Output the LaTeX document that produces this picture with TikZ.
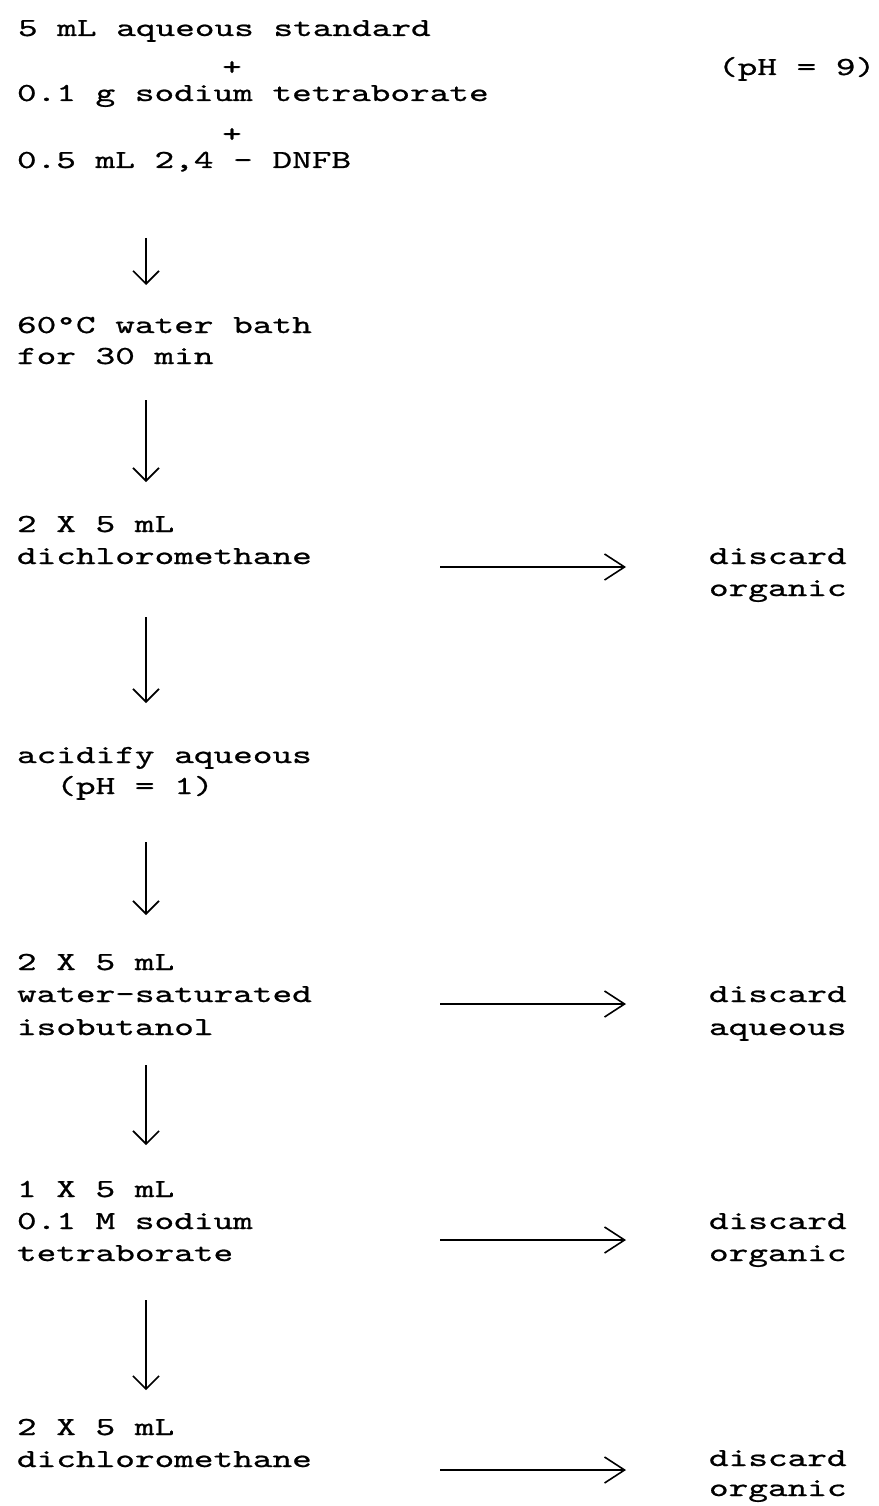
\documentclass[tikz,border=0pt]{standalone}
\usepackage{fontspec}
\setmonofont{lmmono10-regular.otf}[FakeStretch=1.44,FakeBold=0.8]
\usetikzlibrary{arrows.meta}
\begin{document}
\begin{tikzpicture}[x=1pt,y=-1pt,
  txt/.style={font=\ttfamily\fontsize{26}{31}\selectfont, anchor=base west, inner sep=0pt, outer sep=0pt},
  plus/.style={font=\ttfamily\fontsize{26}{31}\selectfont, anchor=base, inner sep=0pt},
  vdown/.style={line width=1.6pt, -{Straight Barb[length=13pt,width=26pt]}},
  hright/.style={line width=1.6pt, -{Straight Barb[length=20pt,width=26pt]}}]
\useasboundingbox (0,0) rectangle (878,1506);

% top block
\node[txt] (s1) at (18,36) {5 mL aqueous standard};
\node[plus] (p1) at (232,75) {+};
\node[txt] (ph9) at (718,75) {(pH = 9)};
\node[txt] (s2) at (17,101) {0.1 g sodium tetraborate};
\node[plus] (p2) at (232,142) {+};
\node[txt] (s3) at (17,168) {0.5 mL 2,4 - DNFB};

% water bath
\node[txt] (b1) at (17,333) {60°C water bath};
\node[txt] (b2) at (17,364) {for 30 min};

% dichloromethane 1
\node[txt] (c1) at (17,532) {2 X 5 mL};
\node[txt] (c2) at (17,564) {dichloromethane};
\node[txt] (r1a) at (709,564) {discard};
\node[txt] (r1b) at (709,596) {organic};

% acidify
\node[txt] (a1) at (17,763) {acidify aqueous};
\node[txt] (a2) at (17,794) {\ \ (pH = 1)};

% isobutanol
\node[txt] (i1) at (17,970) {2 X 5 mL};
\node[txt] (i2) at (17,1002) {water-saturated};
\node[txt] (i3) at (17,1035) {isobutanol};
\node[txt] (r2a) at (709,1002) {discard};
\node[txt] (r2b) at (709,1035) {aqueous};

% tetraborate
\node[txt] (t1) at (17,1197) {1 X 5 mL};
\node[txt] (t2) at (17,1229) {0.1 M sodium};
\node[txt] (t3) at (17,1261) {tetraborate};
\node[txt] (r3a) at (709,1229) {discard};
\node[txt] (r3b) at (709,1261) {organic};

% dichloromethane 2
\node[txt] (e1) at (17,1435) {2 X 5 mL};
\node[txt] (e2) at (17,1467) {dichloromethane};
\node[txt] (r4a) at (709,1466) {discard};
\node[txt] (r4b) at (709,1496) {organic};

% arrow end points
\coordinate (v1a) at (146,238);  \coordinate (v1b) at (146,285);
\coordinate (v2a) at (146,400);  \coordinate (v2b) at (146,482);
\coordinate (v3a) at (146,617);  \coordinate (v3b) at (146,703);
\coordinate (v4a) at (146,842);  \coordinate (v4b) at (146,915);
\coordinate (v5a) at (146,1065); \coordinate (v5b) at (146,1145);
\coordinate (v6a) at (146,1300); \coordinate (v6b) at (146,1390);
\coordinate (h1a) at (440,567);  \coordinate (h1b) at (626,567);
\coordinate (h2a) at (440,1004); \coordinate (h2b) at (626,1004);
\coordinate (h3a) at (440,1240); \coordinate (h3b) at (626,1240);
\coordinate (h4a) at (440,1470); \coordinate (h4b) at (626,1470);

\draw[vdown] (v1a) -- (v1b);
\draw[vdown] (v2a) -- (v2b);
\draw[vdown] (v3a) -- (v3b);
\draw[vdown] (v4a) -- (v4b);
\draw[vdown] (v5a) -- (v5b);
\draw[vdown] (v6a) -- (v6b);
\draw[hright] (h1a) -- (h1b);
\draw[hright] (h2a) -- (h2b);
\draw[hright] (h3a) -- (h3b);
\draw[hright] (h4a) -- (h4b);
\end{tikzpicture}
\end{document}
